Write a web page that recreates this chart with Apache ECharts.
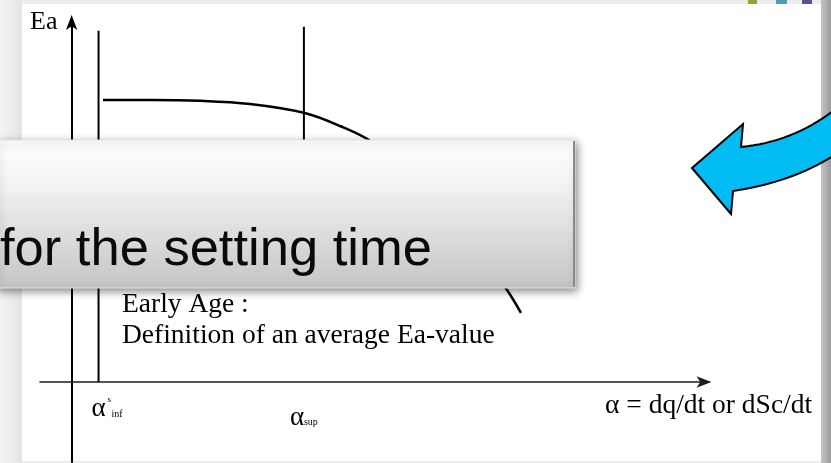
<!DOCTYPE html>
<html>
<head>
<meta charset="utf-8">
<script src="https://cdn.jsdelivr.net/npm/echarts@6/dist/echarts.min.js"></script>
<style>
  html, body { margin: 0; padding: 0; background: #ececec; }
  #chart { width: 831px; height: 463px; }
</style>
</head>
<body>
<div id="chart"></div>
<script>
// Apparent activation energy Ea against the degree of hydration α
const curveAlpha = [0.99, 2.48, 4.06, 5.64, 7.34, 8.48, 9.49, 11.0, 12.5, 13.76, 14.2];
const curveEa    = [7.05, 7.05, 7.03, 6.95, 6.73, 6.40, 6.00, 5.00, 3.70, 2.30, 1.73];

// bounds of the early-age window
const alphaInf = 0.85;
const alphaSup = 7.34;
const infLineEa = [0, 8.78];
const supLineEa = [8.88, 5.5];

const yAxisName = 'Ea';
const xAxisName = 'α = dq/dt or dSc/dt';
const noteLines = ['Early Age :', 'Definition of an average Ea-value'];
const bannerText = 'for the setting time';

const SERIF = '"Liberation Serif", "Times New Roman", serif';
const SANS = '"Liberation Sans", Arial, sans-serif';

const chart = echarts.init(document.getElementById('chart'), null, { renderer: 'canvas' });

const curveData = curveAlpha.map((a, i) => [a, curveEa[i]]);

function quad(p0, c, p1, n) {
  const pts = [];
  for (let i = 0; i <= n; i++) {
    const t = i / n;
    const u = 1 - t;
    pts.push([u * u * p0[0] + 2 * u * t * c[0] + t * t * p1[0],
              u * u * p0[1] + 2 * u * t * c[1] + t * t * p1[1]]);
  }
  return pts;
}

// curved block arrow on the right
const arrowPts = [[692, 168], [743, 124]]
  .concat(quad([741, 147], [792, 142], [833, 111], 16))
  .concat(quad([833, 156], [792, 182], [733, 191], 16))
  .concat([[731, 214]]);

const option = {
  backgroundColor: '#ececec',
  animation: false,
  grid: { left: 40, right: 126.5, top: 22, bottom: 1, containLabel: false },
  xAxis: {
    type: 'value', min: -1, max: 20, z: 4,
    axisLine: { onZero: true, symbol: ['none', 'arrow'], symbolSize: [8.5, 15], symbolOffset: [0, 7],
      lineStyle: { color: '#1e1e1e', width: 1.6 } },
    axisTick: { show: false }, axisLabel: { show: false }, splitLine: { show: false }
  },
  yAxis: {
    type: 'value', min: -2, max: 9, z: 4,
    axisLine: { onZero: true, symbol: ['none', 'arrow'], symbolSize: [8.5, 15], symbolOffset: [0, 7],
      lineStyle: { color: '#000', width: 2 } },
    axisTick: { show: false }, axisLabel: { show: false }, splitLine: { show: false }
  },
  series: [
    { type: 'line', z: 5, data: curveData, smooth: 0.35, showSymbol: false,
      lineStyle: { color: '#000', width: 2.5 } },
    { type: 'line', z: 5, data: infLineEa.map(v => [alphaInf, v]), showSymbol: false,
      lineStyle: { color: '#000', width: 2 } },
    { type: 'line', z: 5, data: supLineEa.map(v => [alphaSup, v]), showSymbol: false,
      lineStyle: { color: '#000', width: 2 } }
  ]
};
chart.setOption(option);

const pInf = chart.convertToPixel({ gridIndex: 0 }, [alphaInf, 0]);
const pSup = chart.convertToPixel({ gridIndex: 0 }, [alphaSup, 0]);

const graphics = [
  // slide frame
  { type: 'rect', z: 0, shape: { x: 0, y: 0, width: 22, height: 463 },
    style: { fill: new echarts.graphic.LinearGradient(0, 0, 1, 0, [
      { offset: 0, color: '#f4f4f4' }, { offset: 1, color: '#e4e4e4' }]) } },
  { type: 'rect', z: 0, shape: { x: 22, y: 4, width: 799, height: 457 }, style: { fill: '#ffffff' } },
  { type: 'rect', z: 0, shape: { x: 821, y: 0, width: 10, height: 463 },
    style: { fill: new echarts.graphic.LinearGradient(0, 0, 1, 0, [
      { offset: 0, color: '#c4c4c4' }, { offset: 1, color: '#9a9a9a' }]) } },
  { type: 'rect', z: 0, shape: { x: 748, y: 0, width: 9, height: 4 }, style: { fill: '#8aa83c' } },
  { type: 'rect', z: 0, shape: { x: 776, y: 0, width: 11, height: 4 }, style: { fill: '#4aa0b4' } },
  { type: 'rect', z: 0, shape: { x: 802, y: 0, width: 10, height: 4 }, style: { fill: '#5b4e98' } },

  // labels
  { type: 'text', z: 6, x: 30, y: 22, style: { text: yAxisName, font: '26px ' + SERIF, fill: '#000', verticalAlign: 'middle' } },
  { type: 'text', z: 6, x: 122, y: 305, style: { text: noteLines[0], font: '27.5px ' + SERIF, fill: '#000', verticalAlign: 'middle' } },
  { type: 'text', z: 6, x: 122, y: 336, style: { text: noteLines[1], font: '27.5px ' + SERIF, fill: '#000', verticalAlign: 'middle' } },
  { type: 'text', z: 6, x: 605, y: 406, style: { text: xAxisName, font: '27.5px ' + SERIF, fill: '#000', verticalAlign: 'middle' } },

  { type: 'text', z: 6, x: pInf[0] - 7, y: 409, style: { text: 'α', font: '27px ' + SERIF, fill: '#000', verticalAlign: 'middle' } },
  { type: 'text', z: 6, x: pInf[0] + 9, y: 400, style: { text: 's', font: '9px ' + SERIF, fill: '#000', verticalAlign: 'middle' } },
  { type: 'text', z: 6, x: pInf[0] + 13, y: 414, style: { text: 'inf', font: '10px ' + SERIF, fill: '#000', verticalAlign: 'middle' } },
  { type: 'text', z: 6, x: pSup[0] - 14, y: 418, style: { text: 'α', font: '27px ' + SERIF, fill: '#000', verticalAlign: 'middle' } },
  { type: 'text', z: 6, x: pSup[0] + 0, y: 422, style: { text: 'sup', font: '10px ' + SERIF, fill: '#000', verticalAlign: 'middle' } },

  // banner box
  { type: 'rect', z: 10, shape: { x: -4, y: 140, width: 579, height: 148 },
    style: { fill: new echarts.graphic.LinearGradient(0, 0, 0, 1, [
      { offset: 0, color: '#ffffff' }, { offset: 0.3, color: '#f3f3f3' }, { offset: 1, color: '#c5c5c5' }]),
      stroke: '#e4e4e4', lineWidth: 1,
      shadowBlur: 8, shadowColor: 'rgba(0,0,0,0.45)', shadowOffsetX: 2, shadowOffsetY: 3 } },
  { type: 'line', z: 11, shape: { x1: 574, y1: 141, x2: 574, y2: 287 }, style: { stroke: '#8a8a8a', lineWidth: 2 } },
  { type: 'text', z: 11, x: 0, y: 251, style: { text: bannerText, font: '52.5px ' + SANS, fill: '#0a0a0a', verticalAlign: 'middle' } },

  // blue arrow
  { type: 'polygon', z: 12, shape: { points: arrowPts },
    style: { fill: '#00bcf2', stroke: '#000', lineWidth: 2, lineJoin: 'miter' } }
];

chart.setOption({ graphic: graphics });
</script>
</body>
</html>
